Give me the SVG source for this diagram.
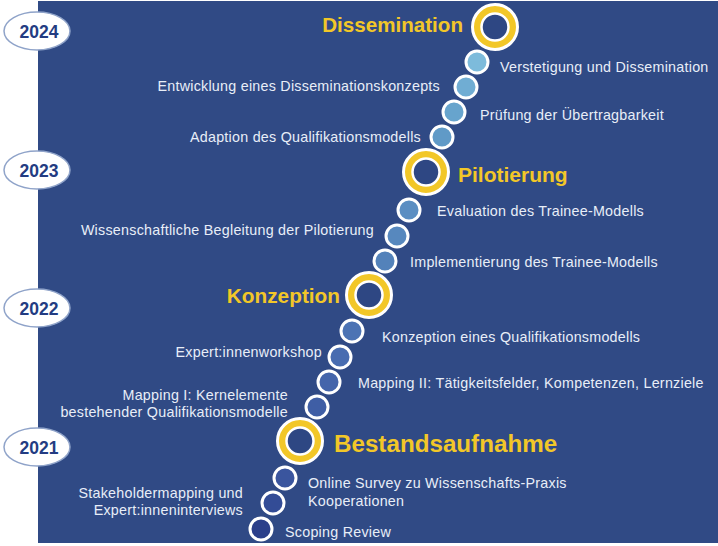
<svg xmlns="http://www.w3.org/2000/svg" width="718" height="546" viewBox="0 0 718 546">
<style>
.bg{fill:#304a85}
.yr ellipse{fill:#ffffff;stroke:#8fa3c9;stroke-width:1.5}
.yr text{font-family:"Liberation Sans",Arial,sans-serif;font-weight:bold;font-size:17.5px;fill:#233c82;text-anchor:middle}
.lbl{font-family:"Liberation Sans",Arial,sans-serif;font-size:14.3px;letter-spacing:0.25px;fill:#e8eef8}
.r{text-anchor:end}
.ms{font-family:"Liberation Sans",Arial,sans-serif;font-weight:bold;fill:#f2c728}
.dot{stroke:#ffffff;stroke-width:3}
.ringO{fill:#f2c728;stroke:#ffffff;stroke-width:3}
.ringI{fill:#2e4783;stroke:#ffffff;stroke-width:2.5}
</style>
<rect class="bg" x="38" y="1" width="680" height="542"/>

<g id="year-2024" class="yr"><ellipse cx="37" cy="31" rx="33" ry="19"/><text x="39" y="37.5">2024</text></g>
<g id="year-2023" class="yr"><ellipse cx="37" cy="170" rx="33" ry="19"/><text x="39" y="176.5">2023</text></g>
<g id="year-2022" class="yr"><ellipse cx="37" cy="308" rx="33" ry="19"/><text x="39" y="314.5">2022</text></g>
<g id="year-2021" class="yr"><ellipse cx="37" cy="447" rx="33" ry="19"/><text x="39" y="453.5">2021</text></g>

<!-- Bestandsaufnahme -->
<g id="scoping-review"><circle class="dot" cx="261" cy="529" r="11" fill="#2b3f8a"/><text class="lbl" x="285" y="537">Scoping Review</text></g>
<g id="stakeholdermapping"><circle class="dot" cx="273" cy="503" r="11" fill="#334c96"/><text class="lbl r" x="243" y="498">Stakeholdermapping und</text><text class="lbl r" x="243" y="515">Expert:inneninterviews</text></g>
<g id="online-survey"><circle class="dot" cx="285" cy="478" r="11" fill="#3a559e"/><text class="lbl" x="308" y="488">Online Survey zu Wissenschafts-Praxis</text><text class="lbl" x="308" y="506">Kooperationen</text></g>
<g id="bestandsaufnahme"><circle class="ringO" cx="300" cy="441" r="22.5"/><circle class="ringI" cx="300" cy="441" r="13.5"/><text class="ms" x="334" y="452" font-size="24.2px">Bestandsaufnahme</text></g>

<!-- Konzeption -->
<g id="mapping-1"><circle class="dot" cx="317" cy="407" r="11" fill="#3f5ea5"/><text class="lbl r" x="288" y="400">Mapping I: Kernelemente</text><text class="lbl r" x="288" y="417">bestehender Qualifikationsmodelle</text></g>
<g id="mapping-2"><circle class="dot" cx="329" cy="382" r="11" fill="#4465ab"/><text class="lbl" x="358" y="388">Mapping II: Tätigkeitsfelder, Kompetenzen,  Lernziele</text></g>
<g id="expertinnenworkshop"><circle class="dot" cx="340" cy="357" r="11" fill="#486cb0"/><text class="lbl r" x="322" y="357">Expert:innenworkshop</text></g>
<g id="konzeption-qm"><circle class="dot" cx="352" cy="331" r="11" fill="#4c73b4"/><text class="lbl" x="382" y="342">Konzeption eines Qualifikationsmodells</text></g>
<g id="konzeption"><circle class="ringO" cx="369" cy="295" r="22.5"/><circle class="ringI" cx="369" cy="295" r="13.5"/><text class="ms r" x="340" y="303" font-size="20.8px">Konzeption</text></g>

<!-- Pilotierung -->
<g id="implementierung"><circle class="dot" cx="385" cy="261" r="11" fill="#5382ba"/><text class="lbl" x="410" y="267">Implementierung des Trainee-Modells</text></g>
<g id="wiss-begleitung"><circle class="dot" cx="397" cy="236" r="11" fill="#5788be"/><text class="lbl r" x="374" y="235">Wissenschaftliche Begleitung der Pilotierung</text></g>
<g id="evaluation"><circle class="dot" cx="409" cy="210" r="11" fill="#5b8ec2"/><text class="lbl" x="437" y="216">Evaluation des Trainee-Modells</text></g>
<g id="pilotierung"><circle class="ringO" cx="426" cy="172" r="22.5"/><circle class="ringI" cx="426" cy="172" r="13.5"/><text class="ms" x="458" y="182" font-size="21px">Pilotierung</text></g>

<!-- Dissemination -->
<g id="adaption"><circle class="dot" cx="442" cy="137" r="11" fill="#609ac7"/><text class="lbl r" x="421" y="142">Adaption des Qualifikationsmodells</text></g>
<g id="pruefung"><circle class="dot" cx="454" cy="112" r="11" fill="#67a4cd"/><text class="lbl" x="480" y="120">Prüfung der Übertragbarkeit</text></g>
<g id="entwicklung"><circle class="dot" cx="466" cy="87" r="11" fill="#70add3"/><text class="lbl r" x="440" y="91">Entwicklung eines Disseminationskonzepts</text></g>
<g id="verstetigung"><circle class="dot" cx="477" cy="62" r="11" fill="#7dbbdb"/><text class="lbl" x="500" y="72">Verstetigung und Dissemination</text></g>
<g id="dissemination"><circle class="ringO" cx="495" cy="27" r="22.5"/><circle class="ringI" cx="495" cy="27" r="13.5"/><text class="ms r" x="463" y="32" font-size="20.6px">Dissemination</text></g>
</svg>
